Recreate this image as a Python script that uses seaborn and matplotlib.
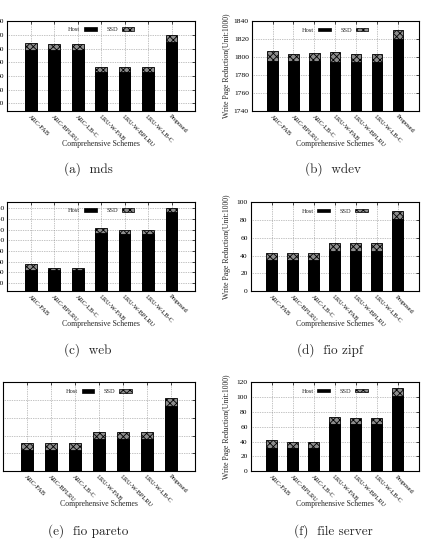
import matplotlib
matplotlib.use("Agg")
import matplotlib.pyplot as plt
import matplotlib.patches as mpatches
import seaborn as sns

schemes = ["ARC-FAB", "ARC-BPLRU", "ARC-LB-C", "LRU-W-FAB", "LRU-W-BPLRU", "LRU-W-LB-C", "Proposed"]

# host part and total (host + ssd)
mds_host = [59.2, 59.2, 59.2, 43.0, 43.0, 43.0, 64.9]
mds_total = [64.3, 63.4, 63.4, 46.9, 46.9, 46.9, 70.2]
wdev_host = [1795.6, 1795.6, 1795.6, 1794.4, 1795.0, 1795.0, 1819.6]
wdev_total = [1806.7, 1803.7, 1804.4, 1805.6, 1803.3, 1803.3, 1830.0]
web_host = [44.4, 44.4, 44.4, 113.2, 111.9, 111.9, 152.6]
web_total = [55.0, 48.0, 48.0, 122.6, 120.0, 120.0, 160.6]
zipf_host = [34.7, 34.7, 34.7, 45.5, 45.5, 45.5, 81.3]
zipf_total = [43.3, 42.5, 42.5, 54.1, 54.1, 54.1, 90.0]
pareto_host = [23.7, 23.7, 23.7, 35.6, 35.6, 35.6, 73.7]
pareto_total = [31.9, 31.5, 31.5, 43.7, 43.7, 43.7, 81.9]
fs_host = [30.9, 30.9, 30.9, 63.1, 63.1, 63.1, 101.7]
fs_total = [41.6, 39.4, 39.4, 73.0, 71.6, 71.6, 112.0]

mds_ticks = [20, 30, 40, 50, 60, 70, 80]
wdev_ticks = [1740, 1760, 1780, 1800, 1820, 1840]
web_ticks = [20, 40, 60, 80, 100, 120, 140, 160]
zipf_ticks = [0, 20, 40, 60, 80, 100]
pareto_ticks = [0, 20, 40, 60, 80, 100]
fs_ticks = [0, 20, 40, 60, 80, 100, 120]

captions = ["(a)  mds", "(b)  wdev", "(c)  web", "(d)  fio zipf", "(e)  fio pareto", "(f)  file server"]

sns.set_style("white")
plt.rcParams["font.family"] = ["Liberation Serif", "DejaVu Serif"]
plt.rcParams["hatch.linewidth"] = 0.6

W, H = 448, 545
fig = plt.figure(figsize=(W / 100, H / 100), dpi=100)

# (left, top, right, bottom) in pixels
boxes = [
    (7.3, 20.7, 195, 111),
    (251.7, 21, 418.7, 111),
    (7.3, 201.7, 195, 291),
    (250.5, 202, 418.7, 291.3),
    (2.7, 382.3, 195, 471),
    (250.5, 382, 418.7, 471.3),
]
panels = [
    (mds_host, mds_total, mds_ticks, (14.3, 80.5)),
    (wdev_host, wdev_total, wdev_ticks, (1740, 1840)),
    (web_host, web_total, web_ticks, (5, 172.4)),
    (zipf_host, zipf_total, zipf_ticks, (0, 100)),
    (pareto_host, pareto_total, pareto_ticks, (0, 100)),
    (fs_host, fs_total, fs_ticks, (0, 120)),
]
cap_pos = [(88, 169), (333, 169), (88, 350), (330, 350), (88, 531), (333, 531)]
ssd_face = "#8c8c8c"

for i, ((host, total, ticks, ylim), (l, t, r, b)) in enumerate(zip(panels, boxes)):
    ax = fig.add_axes([l / W, 1 - b / H, (r - l) / W, (b - t) / H])

    sns.barplot(x=schemes, y=total, ax=ax, color=ssd_face, edgecolor="black",
                width=0.5, linewidth=0.6, saturation=1)
    for p in ax.patches:
        p.set_hatch("xxxxx")
    sns.barplot(x=schemes, y=host, ax=ax, color="black", edgecolor="black",
                width=0.5, linewidth=0.6, saturation=1)

    ax.set_xlim(-1, 7)
    ax.set_ylim(*ylim)
    ax.set_yticks(ticks)
    ax.set_yticklabels([str(v) for v in ticks], fontsize=5.4)
    ax.set_xticks(range(len(schemes)))
    ax.set_xticklabels(schemes, rotation=-45, ha="left", va="top",
                       rotation_mode="anchor", fontsize=4.6)
    ax.tick_params(direction="in", top=True, right=True, length=2.5,
                   width=0.5, pad=2, colors="black")
    ax.grid(True, linestyle=(0, (1, 1.5)), color="#888888", linewidth=0.5)
    ax.set_axisbelow(True)
    for s in ax.spines.values():
        s.set_linewidth(0.8)
        s.set_color("black")

    # x label sits about 33 px under the axes
    ax.set_xlabel("Comprehensive Schemes", fontsize=5.6)
    ax.xaxis.set_label_coords(0.5, -33 / (b - t))
    ax.xaxis.label.set_verticalalignment("center")
    if i % 2 == 1:
        ax.set_ylabel("Write Page Reduction(Unit:1000)", fontsize=5.6)
        ax.yaxis.set_label_coords((227 - l) / (r - l), 0.5)
        ax.yaxis.label.set_verticalalignment("center")
    else:
        ax.set_ylabel("")

    handles = [mpatches.Patch(facecolor="black", edgecolor="black", linewidth=0.5),
               mpatches.Patch(facecolor=ssd_face, edgecolor="black", hatch="xxxxx", linewidth=0.5)]
    ax.legend(handles, ["Host", "SSD"], loc="upper center", bbox_to_anchor=(0.5, 0.99),
              ncol=2, frameon=False, markerfirst=False, fontsize=4.6,
              handlelength=2.0, handleheight=0.5, handletextpad=0.6, columnspacing=1.5)

    cx, cy = cap_pos[i]
    fig.text(cx / W, 1 - cy / H, captions[i], ha="center", va="center",
             fontsize=9.5, family=["cmr10", "DejaVu Serif"])

fig.savefig("out.png", dpi=100)
